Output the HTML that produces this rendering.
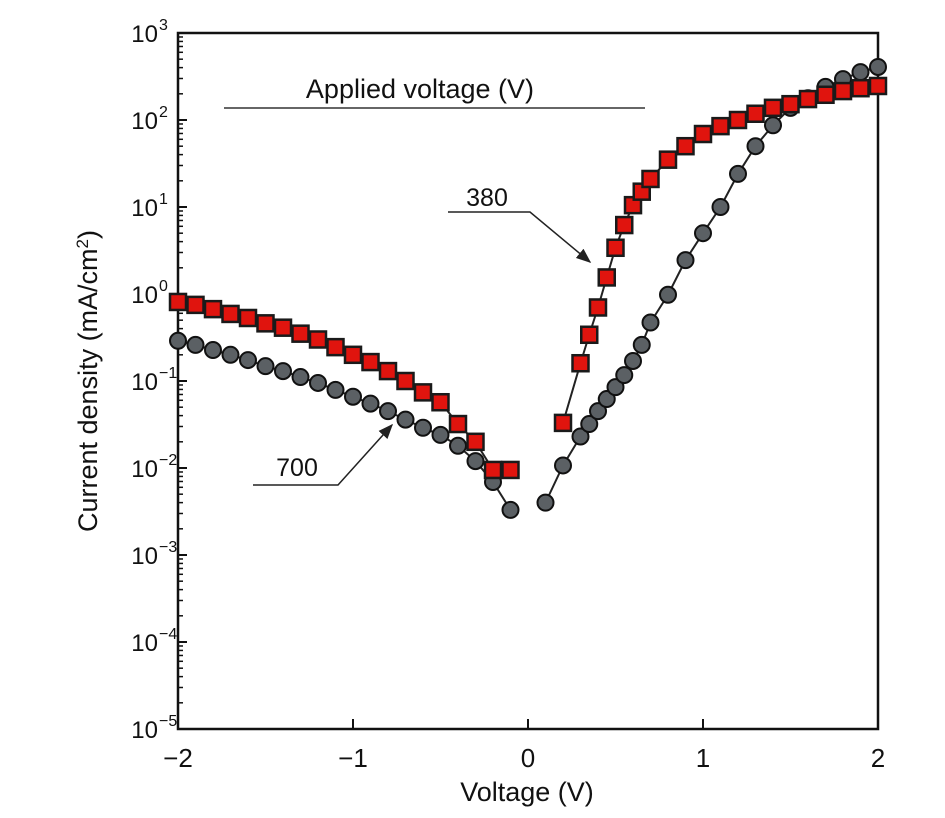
<!DOCTYPE html>
<html><head><meta charset="utf-8"><style>
body{margin:0;background:#fff}
svg text{font-family:"Liberation Sans",sans-serif;fill:#111}
</style></head><body>
<svg id="c" width="945" height="813"></svg>
<script>
const sqLeftX=[-2,-1.9,-1.8,-1.7,-1.6,-1.5,-1.4,-1.3,-1.2,-1.1,-1,-0.9,-0.8,-0.7,-0.6,-0.5,-0.4,-0.3,-0.2,-0.1];
const sqLeftY=[0.81,0.75,0.67,0.59,0.53,0.46,0.41,0.35,0.30,0.245,0.20,0.165,0.13,0.10,0.074,0.057,0.032,0.020,0.0095,0.0095];
const sqRightX=[0.2,0.3,0.35,0.4,0.45,0.5,0.55,0.6,0.65,0.7,0.8,0.9,1.0,1.1,1.2,1.3,1.4,1.5,1.6,1.7,1.8,1.9,2.0];
const sqRightY=[0.033,0.16,0.34,0.70,1.55,3.4,6.2,10.5,15,21,35,50,69,85,100,118,138,152,174,195,215,232,246];
const ciLeftX=[-2,-1.9,-1.8,-1.7,-1.6,-1.5,-1.4,-1.3,-1.2,-1.1,-1,-0.9,-0.8,-0.7,-0.6,-0.5,-0.4,-0.3,-0.2,-0.1];
const ciLeftY=[0.29,0.26,0.227,0.20,0.174,0.148,0.13,0.111,0.095,0.079,0.066,0.055,0.045,0.036,0.029,0.024,0.018,0.012,0.0069,0.0033];
const ciRightX=[0.1,0.2,0.3,0.35,0.4,0.45,0.5,0.55,0.6,0.65,0.7,0.8,0.9,1.0,1.1,1.2,1.3,1.4,1.5,1.6,1.7,1.8,1.9,2.0];
const ciRightY=[0.0040,0.0107,0.023,0.032,0.045,0.062,0.085,0.117,0.17,0.26,0.47,0.98,2.45,5.0,10,24,50,87,138,178,240,295,355,407];
const xTicks=[-2,-1,0,1,2];
const xTickLabels=["\u22122","\u22121","0","1","2"];
const yExps=[3,2,1,0,-1,-2,-3,-4,-5];

const NS="http://www.w3.org/2000/svg";
const svg=document.getElementById('c');
const L=178,R=878,T=33,B=729;
const sx=v=>L+(v+2)/4*(R-L);
const sy=v=>T+(3-Math.log10(v))/8*(B-T);
function mk(tag,at,parent){const e=document.createElementNS(NS,tag);for(const k in at)e.setAttribute(k,at[k]);(parent||svg).appendChild(e);return e;}

// ticks
for(let d=-5;d<3;d++){for(let m=2;m<=9;m++){const y=sy(m*Math.pow(10,d));
 const t=mk('line',{x1:L,x2:L+5,y1:y,y2:y,stroke:'#111','stroke-width':1.5});
 
 }}
yExps.forEach(e=>{const y=sy(Math.pow(10,e));
 const t=mk('line',{x1:L,x2:L+9,y1:y,y2:y,stroke:'#111','stroke-width':2});
 
 
 const tx=mk('text',{x:158,y:y+9,'text-anchor':'end','font-size':24});
 
 
 tx.textContent='10';
 const sp=mk('text',{x:159,y:y-3,'font-size':16});
 
 
 sp.textContent=e<0?'\u2212'+(-e):String(e);});
xTicks.forEach((v,i)=>{const x=sx(v);
 const t=mk('line',{x1:x,x2:x,y1:B,y2:B-10,stroke:'#111','stroke-width':2});
 
 
 const tx=mk('text',{x:x,y:767,'text-anchor':'middle','font-size':26});
 
 
 tx.textContent=xTickLabels[i];});
const fr=mk('rect',{x:L,y:T,width:R-L,height:B-T,fill:'none',stroke:'#111','stroke-width':2.5});



function series(xs,ys,kind,name){
 const pl=mk('polyline',{points:xs.map((x,i)=>sx(x)+','+sy(ys[i])).join(' '),fill:'none',stroke:'#222','stroke-width':2});
 
 
 xs.forEach((x,i)=>{let m;
  if(kind==='sq'){m=mk('rect',{x:sx(x)-8,y:sy(ys[i])-8,width:16,height:16,fill:'#e0140e',stroke:'#1a1a1a','stroke-width':2.5});}
  else{m=mk('circle',{cx:sx(x),cy:sy(ys[i]),r:8,fill:'#5b6064',stroke:'#111','stroke-width':2});}
  
  });}
series(ciLeftX,ciLeftY,'ci','series-700-reverse');
series(ciRightX,ciRightY,'ci','series-700-forward');
series(sqLeftX,sqLeftY,'sq','series-380-reverse');
series(sqRightX,sqRightY,'sq','series-380-forward');
</script>
<svg width="945" height="813" style="position:absolute;left:0;top:0">
<defs><marker id="ar" markerWidth="10" markerHeight="8" refX="9" refY="4" orient="auto"><path d="M0,0 L10,4 L0,8 z" fill="#222"/></marker></defs>
<text x="420" y="98" text-anchor="middle" font-size="27">Applied voltage (V)</text>
<line x1="224" y1="108" x2="645" y2="108" stroke="#333" stroke-width="1.5"/>
<text x="487" y="206" text-anchor="middle" font-size="25">380</text>
<polyline points="448,212 530,212 590,262" fill="none" stroke="#222" stroke-width="1.5" marker-end="url(#ar)"/>
<text x="297" y="476" text-anchor="middle" font-size="25">700</text>
<polyline points="253,485 338,485 392,425" fill="none" stroke="#222" stroke-width="1.5" marker-end="url(#ar)"/>
<text x="527" y="801" text-anchor="middle" font-size="27">Voltage (V)</text>
<text transform="translate(97,381) rotate(-90)" text-anchor="middle" font-size="27">Current density (mA/cm<tspan dy="-9" font-size="17">2</tspan><tspan dy="9">)</tspan></text>
</svg>
<style>body{position:relative}</style>
</body></html>
